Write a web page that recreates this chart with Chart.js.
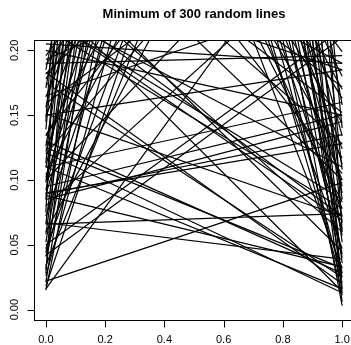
<!DOCTYPE html>
<html>
<head>
<meta charset="utf-8">
<script src="https://cdn.jsdelivr.net/npm/chart.js@4.4.1/dist/chart.umd.min.js"></script>
<style>
html,body{margin:0;padding:0;overflow:hidden;background:#fff;}
#wrap{width:351px;height:345px;overflow:hidden;position:relative;}
canvas{display:block;}
</style>
</head>
<body>
<div id="wrap"><canvas id="c" width="370" height="345"></canvas></div>
<script>
// Each line runs from x = 0 to x = 1; values are y at x=0 (start) and y at x=1 (end)
const xEnds = [0, 1];

// lines rising from a visible left end out of the top
const risingStart = [0.015,0.018,0.021,0.026,0.031,0.034,0.041,0.044,0.047,0.052,0.066,0.072,0.085,0.089,0.092,0.098,0.104,0.110,0.113,0.122,0.126,0.134,0.139,0.149,0.156,0.159,0.164,0.171,0.182,0.185,0.189,0.193,0.196,0.120,0.060,0.016,0.042,0.050,0.028,0.075,0.145,0.178,0.102,0.135,0.058,0.100,0.165,0.080];
const risingEnd   = [1.150,0.697,1.459,0.853,1.801,0.595,0.920,1.215,0.666,1.352,1.841,0.752,2.545,0.833,1.147,1.669,0.537,1.199,2.488,0.784,1.493,0.545,2.439,0.739,1.196,0.328,0.714,1.404,0.399,1.335,0.506,0.293,0.496,0.387,0.483,0.330,0.210,0.217,3.028,4.508,3.295,0.511,0.809,0.427,1.725,0.340,0.243,0.286];

// lines falling from the top to a visible right end
const fallingStart = [1.689,0.996,2.416,0.800,1.228,0.619,1.756,0.960,0.691,1.219,0.757,2.081,0.922,0.529,1.163,0.668,2.108,0.513,0.724,0.956,0.520,0.327,1.408,0.538,0.336,0.647,0.310,0.499,0.857,1.785,0.578,0.902,1.209,1.963,1.332,3.760,1.842,0.912,2.407,0.592,0.328,0.399,0.262];
const fallingEnd   = [0.006,0.011,0.016,0.021,0.028,0.032,0.036,0.043,0.047,0.057,0.062,0.067,0.072,0.083,0.090,0.100,0.108,0.117,0.124,0.134,0.144,0.152,0.158,0.163,0.172,0.180,0.190,0.199,0.025,0.052,0.078,0.095,0.003,0.013,0.040,0.060,0.085,0.112,0.140,0.170,0.128,0.105,0.185];

// shallow lines crossing the whole panel
const crossingStart = [0.022,0.066,0.067,0.130,0.125,0.088,0.151,0.085,0.089,0.183,0.175,0.217,0.225,0.240,0.226,0.121,0.110,0.242,0.205,0.190,0.150,0.110,0.200,0.095,0.230,0.260,0.090,0.270,0.320];
const crossingEnd   = [0.098,0.074,0.039,0.028,0.032,0.033,0.072,0.145,0.135,0.020,0.025,0.078,0.085,0.072,0.069,0.013,0.016,0.014,0.190,0.196,0.185,0.160,0.150,0.150,0.110,0.060,0.128,0.045,0.100];

const xTickValues = [0, 0.2, 0.4, 0.6, 0.8, 1.0];
const xTickLabels = ['0.0', '0.2', '0.4', '0.6', '0.8', '1.0'];
const yTickValues = [0, 0.05, 0.10, 0.15, 0.20];
const yTickLabels = ['0.00', '0.05', '0.10', '0.15', '0.20'];
const titleText = 'Minimum of 300 random lines';

function makeSets(starts, ends) {
  return starts.map((s, i) => ({
    data: [{x: xEnds[0], y: s}, {x: xEnds[1], y: ends[i]}],
    borderColor: '#000',
    borderWidth: 1.2,
    pointRadius: 0,
    tension: 0,
    fill: false
  }));
}
const datasets = [].concat(
  makeSets(risingStart, risingEnd),
  makeSets(fallingStart, fallingEnd),
  makeSets(crossingStart, crossingEnd)
);

const rAxes = {
  id: 'rAxes',
  afterDraw(chart) {
    const ctx = chart.ctx;
    const a = chart.chartArea;
    const xs = chart.scales.x, ys = chart.scales.y;
    ctx.save();
    ctx.strokeStyle = '#000';
    ctx.fillStyle = '#000';
    ctx.lineWidth = 1;
    const L = Math.round(a.left) + 0.5, T = Math.round(a.top) + 0.5;
    const R = Math.round(a.right) + 0.5, B = Math.round(a.bottom) + 0.5;
    ctx.strokeRect(L, T, R - L, B - T);
    ctx.beginPath();
    xTickValues.forEach(v => {
      const px = Math.round(xs.getPixelForValue(v)) + 0.5;
      ctx.moveTo(px, B); ctx.lineTo(px, B + 7);
    });
    yTickValues.forEach(v => {
      const py = Math.round(ys.getPixelForValue(v)) + 0.5;
      ctx.moveTo(L, py); ctx.lineTo(L - 7, py);
    });
    ctx.stroke();
    ctx.font = '11px "Liberation Sans", Arial, sans-serif';
    ctx.textAlign = 'center';
    ctx.textBaseline = 'middle';
    xTickValues.forEach((v, i) => {
      ctx.fillText(xTickLabels[i], xs.getPixelForValue(v), 340);
    });
    yTickValues.forEach((v, i) => {
      ctx.save();
      ctx.translate(15, ys.getPixelForValue(v));
      ctx.rotate(-Math.PI / 2);
      ctx.fillText(yTickLabels[i], 0, 0);
      ctx.restore();
    });
    ctx.font = 'bold 13px "Liberation Sans", Arial, sans-serif';
    ctx.fillText(titleText, (a.left + a.right) / 2, 14);
    ctx.restore();
  }
};

new Chart(document.getElementById('c'), {
  type: 'line',
  data: { datasets },
  options: {
    responsive: false,
    animation: false,
    devicePixelRatio: 1,
    layout: { padding: { left: 34, top: 40, right: 16, bottom: 25 } },
    scales: {
      x: { type: 'linear', min: -0.04, max: 1.04, display: false },
      y: { type: 'linear', min: -0.008, max: 0.208, display: false }
    },
    plugins: { legend: { display: false }, tooltip: { enabled: false }, title: { display: false } }
  },
  plugins: [rAxes]
});
</script>
</body>
</html>
